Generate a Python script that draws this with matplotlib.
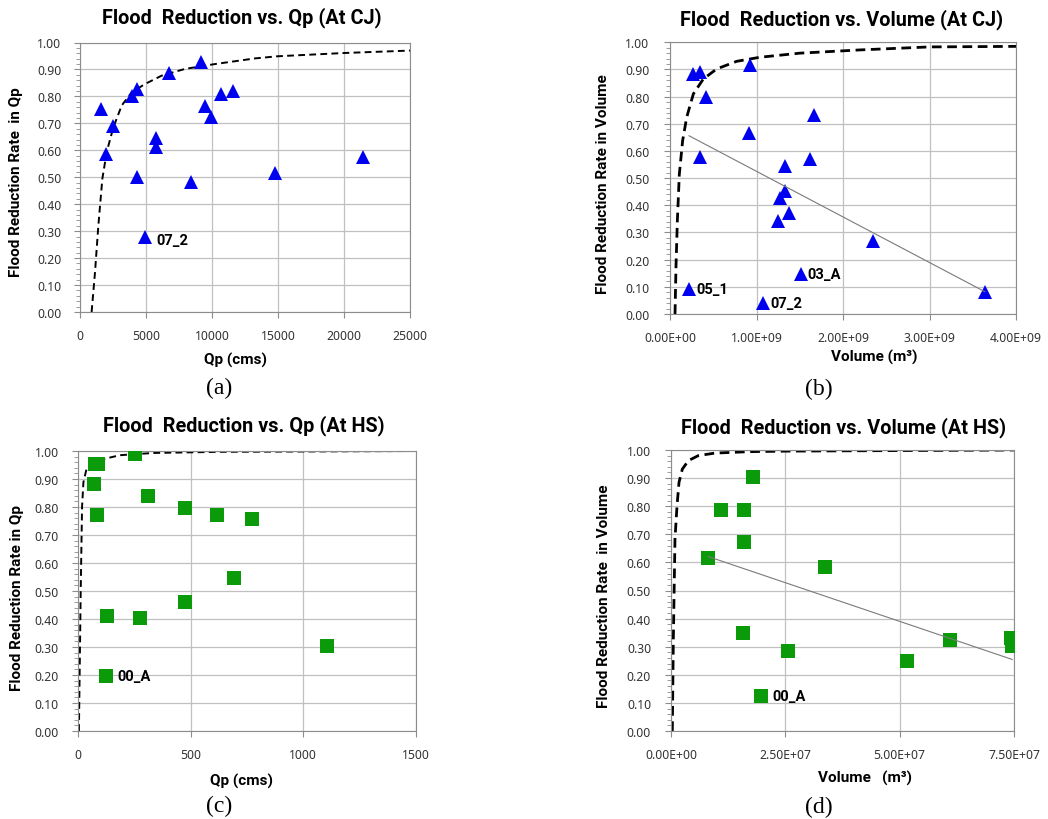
import numpy as np
import matplotlib
matplotlib.use('Agg')
import matplotlib.pyplot as plt
from matplotlib.ticker import MultipleLocator, FuncFormatter

plt.rcParams['font.family'] = ['Noto Sans', 'DejaVu Sans']
BOLD = ['Roboto', 'DejaVu Sans']

BLUE = '#0000F0'; GREEN = '#0A9A0A'; GRID = '#C0C0C0'; SPINE = '#8C8C8C'; TICK = '#333333'

# ---- CJ, peak discharge ----
qp_cj = [1560, 2480, 1940, 3970, 4290, 4340, 4960, 5790, 5780, 6730, 9160, 8390, 9480, 9940, 10660, 11560, 14750, 21410]
qp_rate_cj = [0.755, 0.690, 0.588, 0.802, 0.828, 0.500, 0.279, 0.645, 0.614, 0.888, 0.926, 0.484, 0.766, 0.724, 0.809, 0.821, 0.516, 0.574]
qp_curve_x_cj = [880, 1136, 1389, 1692, 2020, 2525, 3157, 3914, 4924, 6187, 7955, 10227, 13258, 15000, 20000, 25000]
qp_curve_y_cj = [0.0, 0.147, 0.320, 0.494, 0.593, 0.685, 0.766, 0.815, 0.846, 0.877, 0.902, 0.920, 0.941, 0.949, 0.961, 0.970]
qp_notes_cj = {6: '07_2'}

# ---- CJ, flood volume (x 1e9 m3) ----
vol_cj = np.array([0.270, 0.351, 0.420, 0.347, 0.220, 0.921, 0.917, 1.079, 1.661, 1.615, 1.330, 1.333, 1.276, 1.372, 1.249, 1.510, 2.343, 3.638]) * 1e9
vol_rate_cj = [0.885, 0.891, 0.798, 0.577, 0.093, 0.918, 0.666, 0.040, 0.734, 0.571, 0.545, 0.452, 0.428, 0.370, 0.341, 0.147, 0.270, 0.080]
vol_curve_x_cj = np.array([0.058, 0.069, 0.085, 0.108, 0.146, 0.193, 0.270, 0.385, 0.540, 0.771, 1.04, 1.50, 2.20, 3.00, 4.00]) * 1e9
vol_curve_y_cj = [0.0, 0.172, 0.343, 0.515, 0.638, 0.724, 0.810, 0.865, 0.902, 0.930, 0.945, 0.960, 0.972, 0.983, 0.985]
vol_notes_cj = {4: '05_1', 7: '07_2', 15: '03_A'}

# ---- HS, peak discharge ----
qp_hs = [75, 90, 73, 84, 129, 126, 252, 312, 274, 475, 475, 617, 692, 774, 1106]
qp_rate_hs = [0.955, 0.955, 0.881, 0.771, 0.410, 0.196, 0.990, 0.840, 0.403, 0.795, 0.462, 0.771, 0.545, 0.757, 0.305]
qp_curve_x_hs = [4, 8, 12, 18, 24, 36, 53, 112, 186, 334, 630, 1500]
qp_curve_y_hs = [0.0, 0.25, 0.50, 0.80, 0.888, 0.930, 0.948, 0.971, 0.985, 0.993, 0.997, 1.0]
qp_notes_hs = {5: '00_A'}

# ---- HS, flood volume (x 1e6 m3) ----
vol_hs = np.array([8.11, 11.04, 15.94, 15.94, 15.79, 17.84, 19.66, 25.58, 33.63, 51.5, 61.1, 74.3, 74.6]) * 1e6
vol_rate_hs = [0.614, 0.786, 0.786, 0.671, 0.350, 0.903, 0.125, 0.286, 0.582, 0.250, 0.325, 0.332, 0.301]
vol_curve_x_hs = np.array([0.29, 0.51, 0.87, 1.31, 1.75, 2.48, 3.79, 5.97, 9.6, 16.9, 25.0, 75.0]) * 1e6
vol_curve_y_hs = [0.0, 0.327, 0.683, 0.800, 0.885, 0.932, 0.962, 0.980, 0.989, 0.994, 0.996, 1.0]
vol_notes_hs = {6: '00_A'}

W, H = 1048, 820
fig = plt.figure(figsize=(W / 100, H / 100), dpi=100)
fig.patch.set_facecolor('white')

def px_axes(l, t, r, b):
    return fig.add_axes([l / W, 1 - b / H, (r - l) / W, (b - t) / H])

def ftext(x, y, s, **kw):
    fig.text(x / W, 1 - y / H, s, ha='center', va='center', **kw)

def style(ax, xmax, xstep, xfmt, ypad, xpad):
    ax.set_xlim(0, xmax); ax.set_ylim(0, 1)
    ax.xaxis.set_major_locator(MultipleLocator(xstep))
    ax.yaxis.set_major_locator(MultipleLocator(0.1))
    ax.yaxis.set_minor_locator(MultipleLocator(0.02))
    ax.xaxis.set_major_formatter(FuncFormatter(xfmt))
    ax.yaxis.set_major_formatter(FuncFormatter(lambda v, p: f'{v:.2f}'))
    ax.grid(True, which='major', color=GRID, lw=0.9)
    ax.set_axisbelow(True)
    for s in ax.spines.values():
        s.set_color(SPINE); s.set_linewidth(0.8)
    ax.tick_params(which='major', length=4, width=0.8, color=SPINE, labelsize=8.8, labelcolor=TICK)
    ax.tick_params(axis='y', which='minor', length=3, width=0.6, color=SPINE)
    ax.tick_params(axis='y', which='major', pad=ypad)
    ax.tick_params(axis='x', which='major', pad=xpad)

def panel(ax, x, y, cx, cy, marker, color, notes, dash, dlw, trend, noff):
    ax.plot(cx, cy, color='black', lw=dlw, ls=(0, dash), zorder=2)
    ax.plot(x, y, ls='none', marker=marker, ms=9.8, mew=0, color=color, zorder=3)
    if trend:
        xa = np.asarray(x, dtype=float)
        coef = np.polyfit(xa, y, 1)
        xs = np.array([xa.min(), xa.max()])
        ax.plot(xs, np.polyval(coef, xs), color='#7A7A7A', lw=0.8, zorder=4)
    for i, s in notes.items():
        ax.annotate(s, (x[i], y[i]), xytext=noff, textcoords='offset points',
                    fontsize=10.5, fontweight='bold', family=BOLD,
                    va='center', ha='left', color='black')

sci = lambda v, p: f'{v:.2E}'
plain = lambda v, p: f'{v:.0f}'

ax_a = px_axes(80, 43.5, 410, 313)
style(ax_a, 25000, 5000, plain, 9.4, 8)
panel(ax_a, qp_cj, qp_rate_cj, qp_curve_x_cj, qp_curve_y_cj, '^', BLUE, qp_notes_cj, (3.5, 2.2), 1.4, False, (8, -2))

ax_b = px_axes(670, 43.3, 1016, 315)
style(ax_b, 4e9, 1e9, sci, 10.8, 8)
panel(ax_b, vol_cj, vol_rate_cj, vol_curve_x_cj, vol_curve_y_cj, '^', BLUE, vol_notes_cj, (3.5, 2.0), 2.0, True, (5, 0))

ax_c = px_axes(78, 452, 416, 732)
style(ax_c, 1500, 500, plain, 9.8, 8)
panel(ax_c, qp_hs, qp_rate_hs, qp_curve_x_hs, qp_curve_y_hs, 's', GREEN, qp_notes_hs, (3.5, 2.2), 1.4, False, (8, 0))

ax_d = px_axes(671, 451, 1014, 732)
style(ax_d, 7.5e7, 2.5e7, sci, 10.4, 8)
panel(ax_d, vol_hs, vol_rate_hs, vol_curve_x_hs, vol_curve_y_hs, 's', GREEN, vol_notes_hs, (3.5, 2.0), 2.0, True, (8, 0))

tkw = dict(fontsize=14.3, fontweight='bold', family=BOLD, color='black')
ftext(242, 18, 'Flood  Reduction vs. Qp (At CJ)', **tkw)
ftext(842, 20, 'Flood  Reduction vs. Volume (At CJ)', **tkw)
ftext(244, 426, 'Flood  Reduction vs. Qp (At HS)', **tkw)
ftext(844, 428, 'Flood  Reduction vs. Volume (At HS)', **tkw)

lkw = dict(fontsize=11, fontweight='bold', family=BOLD, color='black')
ftext(236, 360, 'Qp (cms)', **lkw)
ftext(874, 357, 'Volume (m³)', **lkw)
ftext(241, 781, 'Qp (cms)', **lkw)
ftext(865, 778, 'Volume   (m³)', **lkw)
ftext(16, 182, 'Flood Reduction Rate  in Qp', rotation=90, **lkw)
ftext(603, 184, 'Flood Reduction Rate in Volume', rotation=90, **lkw)
ftext(17, 598, 'Flood Reduction Rate in Qp', rotation=90, **lkw)
ftext(604, 596, 'Flood Reduction Rate  in Volume', rotation=90, **lkw)

skw = dict(fontsize=17, family='Liberation Serif', color='black')
ftext(219, 388, '(a)', **skw)
ftext(819, 389, '(b)', **skw)
ftext(219, 806, '(c)', **skw)
ftext(819, 807, '(d)', **skw)

fig.savefig('out.png', dpi=100, facecolor='white')
